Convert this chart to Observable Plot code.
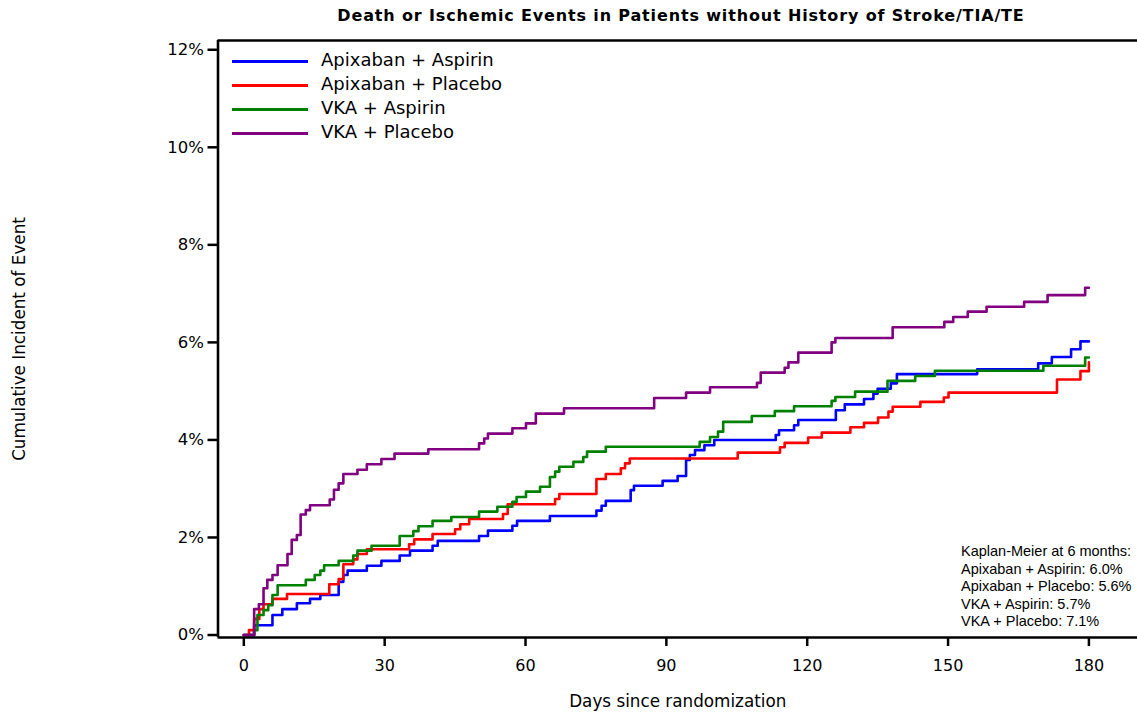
<!DOCTYPE html>
<html>
<head>
<meta charset="utf-8">
<script src="https://cdn.jsdelivr.net/npm/d3@7"></script>
<script src="https://cdn.jsdelivr.net/npm/@observablehq/plot@0.6"></script>
<style>
  html, body { margin: 0; padding: 0; background: #fff; }
  #wrap { position: relative; width: 1137px; height: 713px; overflow: hidden; font-family: "DejaVu Sans", sans-serif; }
  #title { position: absolute; left: 681px; top: 15px; transform: translate(-50%, -50%); white-space: nowrap;
           font: bold 16px "DejaVu Sans", sans-serif; letter-spacing: 0.85px; color: #000; }
  #chart { position: absolute; left: 0; top: 30px; }
  #legend { position: absolute; left: 232px; top: 49px; }
  .lg { position: relative; height: 24px; }
  .lg .sw { position: absolute; left: 0; top: 11px; width: 76px; height: 3px; }
  .lg .tx { position: absolute; left: 89px; top: 0; line-height: 24px; font: 18px "DejaVu Sans", sans-serif; color: #000; white-space: nowrap; }
  #km { position: absolute; left: 961px; top: 543px; font: 14.5px "Liberation Sans", Arial, sans-serif; line-height: 17.5px; color: #000; white-space: nowrap; }
</style>
</head>
<body>
<div id="wrap">
  <div id="title"></div>
  <div id="chart"></div>
  <div id="legend"></div>
  <div id="km"></div>
</div>
<script>
const titleText = "Death or Ischemic Events in Patients without History of Stroke/TIA/TE";
const xLabel = "Days since randomization";
const yLabel = "Cumulative Incident of Event";
const seriesNames = ["Apixaban + Aspirin", "Apixaban + Placebo", "VKA + Aspirin", "VKA + Placebo"];
const seriesColors = ["#0000ff", "#ff0000", "#008000", "#800080"];
const xTicks = [0, 30, 60, 90, 120, 150, 180];
const yTicks = [0, 2, 4, 6, 8, 10, 12];
const kmTitle = "Kaplan-Meier at 6 months:";
const kmValues = ["6.0%", "5.6%", "5.7%", "7.1%"];

// Apixaban + Aspirin
const apixAspT = [0, 2.2, 6.1, 8.2, 11.3, 14.1, 16.3, 20.2, 21.2, 22.1, 26.2, 29.3, 33.2, 35.4, 40.2, 41.3, 50.1, 52.0, 57.2, 58.2, 65.2, 75.1, 76.2, 77.1, 82.4, 83.1, 89.2, 92.4, 94.2, 95.0, 96.1, 98.1, 100.2, 113.3, 114.0, 117.2, 118.1, 126.1, 128.0, 132.1, 134.1, 135.0, 137.8, 139.1, 156.2, 169.2, 172.1, 176.2, 178.2, 180];
const apixAspV = [0, 0.2, 0.41, 0.53, 0.65, 0.74, 0.82, 1.09, 1.23, 1.32, 1.42, 1.52, 1.63, 1.73, 1.83, 1.93, 2.03, 2.14, 2.24, 2.34, 2.44, 2.55, 2.65, 2.75, 2.97, 3.06, 3.16, 3.26, 3.59, 3.69, 3.79, 3.89, 4.0, 4.1, 4.2, 4.3, 4.41, 4.61, 4.73, 4.84, 4.95, 5.05, 5.16, 5.35, 5.45, 5.57, 5.70, 5.86, 6.02, 6.02];
// Apixaban + Placebo
const apixPlaT = [0, 1.1, 2.2, 3.3, 4.2, 6.1, 9.2, 18.2, 20.2, 21.2, 23.3, 24.2, 26.2, 35.2, 36.3, 40.2, 45.0, 46.1, 48.0, 55.2, 56.2, 66.3, 67.2, 75.1, 77.1, 80.3, 81.2, 82.2, 105.2, 114.2, 115.2, 120.2, 123.1, 129.2, 132.1, 135.1, 137.3, 138.2, 144.1, 149.1, 150.1, 173.2, 178.2, 180];
const apixPlaV = [0, 0.1, 0.33, 0.53, 0.63, 0.74, 0.84, 1.04, 1.15, 1.45, 1.55, 1.66, 1.76, 1.86, 1.96, 2.07, 2.17, 2.27, 2.38, 2.48, 2.68, 2.79, 2.89, 3.2, 3.3, 3.42, 3.52, 3.62, 3.74, 3.85, 3.94, 4.05, 4.15, 4.26, 4.35, 4.46, 4.58, 4.68, 4.78, 4.87, 4.97, 5.24, 5.41, 5.59];
// VKA + Aspirin
const vkaAspT = [0, 2.2, 2.9, 4.2, 5.2, 6.1, 7.2, 13.2, 15.1, 16.3, 17.1, 20.2, 23.3, 24.2, 27.2, 33.2, 36.1, 37.2, 40.2, 44.2, 50.1, 54.0, 57.2, 58.1, 60.1, 63.1, 65.2, 66.3, 67.2, 70.2, 72.3, 73.1, 77.1, 97.1, 99.3, 101.0, 102.1, 108.2, 113.1, 117.2, 125.2, 126.0, 130.2, 137.1, 143.0, 147.2, 170.3, 179.2, 180];
const vkaAspV = [0, 0.1, 0.41, 0.51, 0.61, 0.82, 1.02, 1.13, 1.23, 1.32, 1.43, 1.52, 1.63, 1.73, 1.83, 2.03, 2.13, 2.23, 2.34, 2.42, 2.53, 2.63, 2.73, 2.83, 2.94, 3.04, 3.24, 3.35, 3.45, 3.55, 3.65, 3.76, 3.86, 3.96, 4.06, 4.17, 4.37, 4.49, 4.59, 4.69, 4.8, 4.88, 4.99, 5.21, 5.31, 5.42, 5.52, 5.69, 5.69];
// VKA + Placebo
const vkaPlaT = [0, 2.2, 3.2, 4.2, 5.0, 6.1, 7.2, 9.3, 10.2, 11.3, 12.1, 13.2, 14.1, 18.3, 19.2, 20.2, 21.2, 24.2, 26.2, 29.3, 32.1, 39.3, 50.1, 51.2, 52.0, 57.2, 60.1, 62.2, 68.2, 87.4, 94.2, 99.3, 109.3, 110.1, 115.2, 116.0, 118.1, 125.2, 126.0, 138.2, 149.2, 151.1, 154.2, 158.2, 166.2, 171.2, 179.2, 180];
const vkaPlaV = [0, 0.53, 0.63, 0.96, 1.13, 1.23, 1.43, 1.66, 1.95, 2.05, 2.47, 2.56, 2.66, 2.78, 2.98, 3.11, 3.30, 3.39, 3.50, 3.61, 3.72, 3.81, 3.93, 4.03, 4.13, 4.24, 4.34, 4.54, 4.65, 4.86, 4.97, 5.08, 5.17, 5.38, 5.48, 5.59, 5.79, 6.00, 6.09, 6.31, 6.42, 6.52, 6.63, 6.73, 6.83, 6.97, 7.12, 7.12];

const seriesT = [apixAspT, apixPlaT, vkaAspT, vkaPlaT];
const seriesV = [apixAspV, apixPlaV, vkaAspV, vkaPlaV];

const rows = [];
seriesNames.forEach((name, i) => {
  seriesT[i].forEach((t, j) => rows.push({series: name, t, v: seriesV[i][j]}));
});

const xDomain = [-5.5, 190.35];
const yDomain = [-0.051, 12.19];

const plot = Plot.plot({
  width: 1137,
  height: 683,
  marginLeft: 217.5,
  marginRight: 0,
  marginTop: 10,
  marginBottom: 76,
  style: {fontFamily: "DejaVu Sans", fontSize: "16px", color: "#000", background: "#fff"},
  x: {domain: xDomain},
  y: {domain: yDomain},
  color: {domain: seriesNames, range: seriesColors},
  marks: [
    Plot.axisX({ticks: xTicks, tickSize: 9, tickPadding: 13, fontSize: 16, strokeWidth: 2.5, label: null}),
    Plot.axisX({ticks: [], fontSize: 16.8, label: xLabel, labelAnchor: "center", labelOffset: 69, labelArrow: "none"}),
    Plot.axisY({ticks: yTicks, tickSize: 10, tickPadding: 4, fontSize: 16.5, strokeWidth: 2.5,
      tickFormat: d => d + "%", label: null}),
    Plot.axisY({ticks: [], fontSize: 16.8, label: yLabel, labelAnchor: "center", labelOffset: 205, labelArrow: "none"}),
    Plot.line(rows, {x: "t", y: "v", stroke: "series", z: "series", curve: "step-after", strokeWidth: 2.6}),
    Plot.ruleX([xDomain[0]], {stroke: "#000", strokeWidth: 2.6}),
    Plot.ruleY([yDomain[0]], {stroke: "#000", strokeWidth: 2.6}),
    Plot.ruleY([yDomain[1]], {stroke: "#000", strokeWidth: 2.6})
  ]
});
document.getElementById("chart").appendChild(plot);
document.getElementById("title").textContent = titleText;

const lg = document.getElementById("legend");
seriesNames.forEach((name, i) => {
  const row = document.createElement("div");
  row.className = "lg";
  const sw = document.createElement("div");
  sw.className = "sw";
  sw.style.background = seriesColors[i];
  const tx = document.createElement("div");
  tx.className = "tx";
  tx.textContent = name;
  row.appendChild(sw); row.appendChild(tx);
  lg.appendChild(row);
});

const km = document.getElementById("km");
const kmLines = [kmTitle].concat(seriesNames.map((n, i) => n + ": " + kmValues[i]));
kmLines.forEach(s => { const d = document.createElement("div"); d.textContent = s; km.appendChild(d); });
</script>
</body>
</html>
